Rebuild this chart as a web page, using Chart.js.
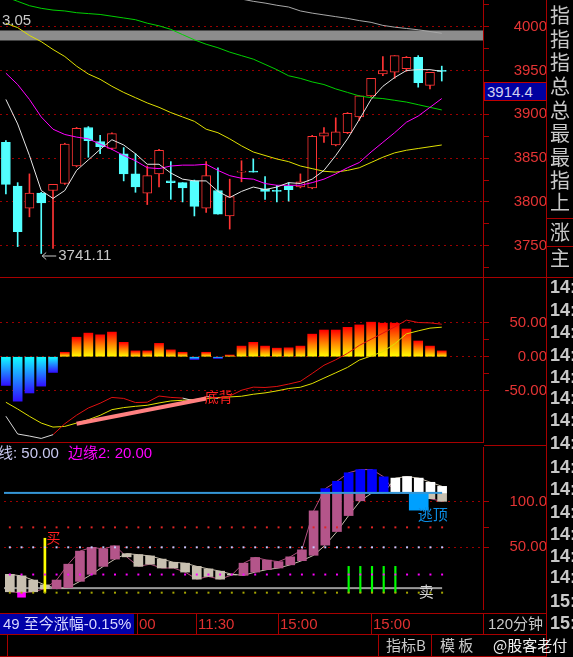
<!DOCTYPE html>
<html>
<head>
<meta charset="utf-8">
<title>120分钟 K线</title>
<script src="https://cdn.jsdelivr.net/npm/chart.js@4.4.1/dist/chart.umd.min.js"></script>
<style>
  html, body { margin: 0; padding: 0; background: #000; }
  body { position: relative; width: 573px; height: 657px; overflow: hidden; font-family: "Liberation Sans", Arial, "Noto Sans CJK SC", sans-serif; }
  canvas { position: absolute; left: 0; }
  .ln { position: absolute; background: #a80000; }
  .tx { position: absolute; white-space: nowrap; }
</style>
</head>
<body>
<canvas id="kChart" width="547" height="277" style="top:0"></canvas>
<canvas id="macdChart" width="547" height="164" style="top:278px"></canvas>
<canvas id="kdChart" width="547" height="170" style="top:443px"></canvas>
<script>
// 41 bar slots on the time axis, the first 38 are filled
const slots = Array.from({ length: 41 }, (_, i) => String(i + 1));

// main panel: 120 minute candles
const kOpen  = [3868,3818,3793,3810,3813,3821,3841,3885,3869,3861,3855,3832,3810,3832,3824,3822,3824,3793,3813,3784,3834,3835,3815,3813,3818,3817,3816,3875,3865,3879,3897,3921,3946,3948,3952,3965,3933,3950];
const kClose = [3820,3766,3810,3799,3820,3866,3884,3870,3863,3878,3832,3817,3830,3859,3822,3816,3795,3830,3786,3806,3835,3834,3812,3812,3814,3823,3875,3879,3880,3901,3921,3941,3950,3967,3965,3936,3948,3949];
const kHigh  = [3870,3822,3832,3811,3820,3867,3885,3886,3876,3879,3862,3855,3841,3860,3846,3822,3825,3846,3839,3826,3847,3849,3829,3819,3822,3832,3876,3885,3896,3902,3921,3941,3966,3967,3966,3967,3948,3955];
const kLow   = [3809,3749,3783,3741.11,3747,3820,3840,3851,3855,3860,3824,3811,3797,3817,3803,3800,3784,3788,3786,3769,3823,3834,3803,3800,3801,3816,3815,3868,3864,3878,3893,3920,3944,3941,3949,3931,3929,3938];
const maWhite  = [3917,3889,3853,3813,3804,3813,3836,3848,3860,3871,3865,3855,3843,3843,3833,3826,3824,3824,3812,3805,3812,3817,3814,3817,3822,3821,3826,3836,3853,3872,3894,3917,3932,3942,3950,3951,3951,3949];
const maPurple = [3947,3934,3917,3897,3883,3877,3874,3872,3866,3860,3853,3847,3839,3838,3841,3842,3842,3843,3836,3830,3827,3826,3821,3819,3819,3819,3822,3826,3832,3839,3845,3857,3868,3879,3891,3898,3908,3918];
const maYellow = [4004,3999,3990,3983,3974,3966,3955,3946,3940,3932,3925,3919,3913,3908,3902,3897,3892,3883,3879,3872,3864,3857,3853,3849,3846,3841,3838,3835,3834,3836,3839,3845,3851,3856,3859,3861,3863,3865];
const maGreen  = [4034,4029,4024,4021,4019,4018,4016,4015,4014,4012,4010,4008,4004,4001,3997,3991,3985,3980,3976,3971,3967,3963,3957,3951,3944,3941,3937,3934,3929,3925,3921,3919,3918,3916,3914,3911,3908,3905];
const maGray   = [null,null,null,null,null,null,null,null,null,null,null,null,null,null,null,null,null,null,null,null,4031.6,4029,4027,4024.5,4022.5,4018,4015.5,4013.5,4011.5,4009.5,4007,4005,4001.5,3999.5,3998,3996.5,3994.5,3992.5];
const priceTicks = [3725,3750,3775,3800,3825,3850,3875,3900,3925,3950,3975,4000,4025];
const priceBand = 3990;
const lowIdx = 3;

// MACD panel
const macdHist = [-42,-65,-53,-43,-23,6.5,28.5,34.5,32,36,21,8.5,8.5,19.5,10,6.5,-4,6.5,-2.5,2.5,15.5,21,15.5,12.5,13,15.5,33,39,39,43,46.5,50.5,49,49,40.5,23,15.5,8.5];
const dif = [-87,-113,-116,-119.5,-114,-98,-85.5,-75,-68,-59.5,-61,-67,-66.5,-57.5,-59.5,-60.5,-64.5,-58,-61,-57.5,-49,-44.5,-45,-43.5,-40,-36,-24.5,-12.5,-4.5,5,16.5,25.5,34.5,43.5,53.5,50,49.5,47.5];
const dea = [-66.6,-76.5,-87.2,-97,-102.9,-101.9,-97,-92.1,-85.7,-77.4,-74.4,-72.5,-71,-67.6,-64.7,-63.7,-62.6,-61.2,-59.7,-58.8,-57.8,-54.9,-52.9,-50,-46.5,-44.6,-39.2,-31.3,-23.5,-15.6,-4.9,1,7.4,18.7,33.4,37.8,41.8,43.2];
const macdTicks = [50,25,0,-25,-50];
const divergeStart = [6, -98];
const divergeEnd = [17, -61];

// lower indicator panel
const kdK = [1,0,1,4.4,13.9,31.4,45.8,50,48.2,51.7,39.5,29,31.4,27.2,27.2,22.7,14.9,17.8,14.9,19.5,32.5,38.8,35.9,34.2,39.5,47.2,90.2,114.7,122.8,132.2,135.7,135.7,127.7,110,110,110,103.6,100.7];
const kdD = [20.2,18.5,13.9,8.6,4.4,5.5,12.5,20.2,29,37,43,41.9,40.5,37,33.5,32.5,29,26.2,23.7,20.3,19.1,22.7,25.4,27.2,30.7,35.3,41.2,52.4,67.4,85,101.3,110,110,126.3,128,126.3,121.7,117.2];
const kdTicks = [100,72,50];
const dotLevels = [72,50,20,0];
const dotColors = ['#e02424','#c8c8ff','#ff00ff','#a8a800'];
const blueLevel = 110;
const grayLevel = 5;
const buyAt = 3, buyTop = 60;
const sellAt = [29,30,31,32,33], sellTop = 29;
const escapeAt = 35, escapeRange = [91,110];
const markAt = 1, markRange = [-5,0];

const frameRed = '#a80000';
const gridRed = '#9a0000';
const labelRed = '#e43434';
const fontFamily = '"Liberation Sans", Arial, sans-serif';
const cjkFamily = '"Noto Sans CJK SC", sans-serif';

function widest(labels) {
  const c = document.createElement('canvas').getContext('2d');
  c.font = '15px ' + fontFamily;
  return Math.max(...labels.map(t => c.measureText(t).width));
}

function yScale(min, max, ticks, fmt) {
  const w = widest(ticks.map(fmt).filter(t => t));
  return {
    position: 'right', min: min, max: max,
    afterBuildTicks: s => { s.ticks = ticks.map(v => ({ value: v })); },
    afterFit: s => { s.width = 64; s.paddingTop = 0; s.paddingBottom = 0; },
    border: { display: true, color: frameRed, width: 1, dash: [2, 4] },
    grid: {
      color: c => (c.tick && fmt(c.tick.value) !== '') ? gridRed : 'rgba(0,0,0,0)',
      tickColor: frameRed, tickLength: 6, lineWidth: 1
    },
    ticks: {
      autoSkip: false, callback: v => fmt(v), color: labelRed,
      font: { family: fontFamily, size: 15 }, crossAlign: 'far', padding: 539 - 483 - 6 - w
    }
  };
}

function chartOptions(y) {
  return {
    responsive: false, animation: false, events: [],
    layout: { padding: 0 },
    plugins: { legend: { display: false }, tooltip: { enabled: false } },
    scales: { x: { type: 'category', offset: true, display: false }, y: y }
  };
}

const line = (data, color, width, order, extra) => Object.assign({
  type: 'line', data: data, borderColor: color, borderWidth: width,
  pointRadius: 0, tension: 0, fill: false, order: order
}, extra || {});

// ---------- main chart ----------
const isUp = kOpen.map((o, i) => kClose[i] >= o);
const upColor = '#ff3434', downColor = '#52ffff';

const mainNotes = {
  id: 'mainNotes',
  beforeDatasetsDraw(chart) {
    const { ctx, chartArea: a, scales: { y } } = chart;
    const yc = y.getPixelForValue(priceBand);
    ctx.save();
    ctx.fillStyle = '#8c8c8c';
    ctx.fillRect(a.left, yc - 5, a.right - a.left, 10);
    ctx.restore();
  },
  afterDatasetsDraw(chart) {
    const { ctx, scales: { x, y } } = chart;
    const px = x.getPixelForValue(lowIdx), py = y.getPixelForValue(kLow[lowIdx]) + 2;
    ctx.save();
    // arrow pointing at the lowest low
    ctx.strokeStyle = '#c8c8c8';
    ctx.lineWidth = 1;
    ctx.beginPath();
    ctx.moveTo(px + 1, py + 0.5); ctx.lineTo(px + 15, py + 0.5);
    ctx.moveTo(px + 1, py + 0.5); ctx.lineTo(px + 5, py - 3);
    ctx.moveTo(px + 1, py + 0.5); ctx.lineTo(px + 5, py + 4);
    ctx.stroke();
    ctx.fillStyle = '#c8c8c8';
    ctx.font = '15px ' + fontFamily;
    ctx.textBaseline = 'middle';
    ctx.fillText(kLow[lowIdx].toFixed(2), px + 17, py);
    ctx.fillText('3.05', 2, 21);
    ctx.restore();
  }
};

new Chart(document.getElementById('kChart'), {
  type: 'bar',
  data: {
    labels: slots,
    datasets: [
      line(maWhite, '#e6e6e6', 1, 1),
      line(maPurple, '#ff00ff', 1, 2),
      line(maYellow, '#e0e000', 1, 3),
      line(maGreen, '#00d000', 1, 4),
      line(maGray, '#a8a8a8', 1, 5),
      {
        type: 'bar', data: kOpen.map((o, i) => [o, kClose[i]]), grouped: false, barThickness: 9,
        backgroundColor: isUp.map(u => u ? '#000000' : downColor),
        borderColor: isUp.map(u => u ? upColor : downColor),
        borderWidth: 1, borderSkipped: false, minBarLength: 1, order: 10
      },
      {
        type: 'bar', data: kLow.map((l, i) => [l, kHigh[i]]), grouped: false, barThickness: 1,
        backgroundColor: isUp.map(u => u ? upColor : downColor), borderWidth: 0, order: 11
      }
    ]
  },
  options: chartOptions(yScale(3714.3, 4030.5, priceTicks, v => v % 50 === 0 ? String(v) : '')),
  plugins: [mainNotes]
});

// ---------- MACD chart ----------
function histColor(c) {
  if (c.raw == null || typeof c.raw !== 'number') return 'rgba(0,0,0,0)';
  const y = c.chart.scales.y;
  const y0 = y.getPixelForValue(0), y1 = y.getPixelForValue(c.raw);
  if (!isFinite(y0) || !isFinite(y1) || y0 === y1) return c.raw >= 0 ? '#ff2000' : '#00ffff';
  const g = c.chart.ctx.createLinearGradient(0, y1, 0, y0);
  if (c.raw >= 0) {
    g.addColorStop(0, '#ff0000'); g.addColorStop(0.45, '#ff7a00'); g.addColorStop(1, '#ffff00');
  } else {
    g.addColorStop(0, '#3010ff'); g.addColorStop(1, '#10ffff');
  }
  return g;
}

const divergeData = slots.map((_, i) => i === divergeStart[0] ? divergeStart[1] : (i === divergeEnd[0] ? divergeEnd[1] : null));

const macdNotes = {
  id: 'macdNotes',
  afterDatasetsDraw(chart) {
    const { ctx, scales: { x, y } } = chart;
    ctx.save();
    ctx.fillStyle = '#ff2020';
    ctx.font = '14px ' + cjkFamily;
    ctx.textBaseline = 'middle';
    ctx.fillText('底背', x.getPixelForValue(divergeEnd[0]) - 1.5, y.getPixelForValue(divergeEnd[1]) - 2);
    ctx.restore();
  }
};

new Chart(document.getElementById('macdChart'), {
  type: 'bar',
  data: {
    labels: slots,
    datasets: [
      line(divergeData, '#ff8080', 4, 0, { spanGaps: true, borderCapStyle: 'butt' }),
      line(dif, '#e01010', 1, 1, {
        segment: { borderColor: s => dif[s.p1DataIndex] < dea[s.p1DataIndex] ? '#d8d8d8' : '#e01010' }
      }),
      line(dea, '#e0e000', 1, 2),
      { type: 'bar', data: macdHist, grouped: false, barThickness: 9, backgroundColor: histColor, borderWidth: 0, order: 10 }
    ]
  },
  options: chartOptions(yScale(-124.7, 115.1, macdTicks, v => v % 50 === 0 ? v.toFixed(2) : '')),
  plugins: [macdNotes]
});

// ---------- lower indicator chart ----------
const kdLo = kdK.map((k, i) => Math.min(k, kdD[i]));
const kdHi = kdK.map((k, i) => Math.max(k, kdD[i]));
const rising = kdK.map((k, i) => k >= kdD[i]);
const lowerBox = kdLo.map((lo, i) => lo < blueLevel ? [lo, Math.min(kdHi[i], blueLevel)] : null);
const upperBox = kdHi.map((hi, i) => hi > blueLevel ? [Math.max(kdLo[i], blueLevel), hi] : null);
const buyData = slots.map((_, i) => i === buyAt ? [0, buyTop] : null);
const sellData = slots.map((_, i) => sellAt.includes(i) ? [0, sellTop] : null);
const escapeData = slots.map((_, i) => i === escapeAt ? escapeRange : null);
const markData = slots.map((_, i) => i === markAt ? markRange : null);

const kdNotes = {
  id: 'kdNotes',
  beforeDatasetsDraw(chart) {
    const { ctx, chartArea: a, scales: { x, y } } = chart;
    ctx.save();
    ctx.fillStyle = '#9a9a9a';
    ctx.fillRect(a.left, y.getPixelForValue(grayLevel) - 1, x.getPixelForValue(kdK.length - 1) - a.left, 2);
    ctx.restore();
  },
  afterDatasetsDraw(chart) {
    const { ctx, chartArea: a, scales: { x, y } } = chart;
    ctx.save();
    ctx.fillStyle = '#3596d6';
    ctx.fillRect(a.left, y.getPixelForValue(blueLevel) - 1, x.getPixelForValue(kdK.length - 1) - a.left, 2);
    ctx.font = '14px ' + cjkFamily;
    ctx.textBaseline = 'top';
    ctx.fillStyle = '#ff2020';
    ctx.fillText('买', x.getPixelForValue(buyAt) + 1.5, y.getPixelForValue(buyTop) - 8);
    ctx.font = '15px ' + cjkFamily;
    ctx.fillStyle = '#0a8ee6';
    ctx.fillText('逃顶', x.getPixelForValue(escapeAt) - 1, y.getPixelForValue(escapeRange[0]) - 3);
    ctx.fillStyle = '#d4d4d4';
    ctx.textBaseline = 'middle';
    ctx.fillText('卖', x.getPixelForValue(escapeAt), y.getPixelForValue(0) - 1);
    ctx.restore();
  }
};

const dotSets = dotLevels.map((lv, j) => line(kdK.map(() => lv), dotColors[j], 0, 0, {
  showLine: false, pointStyle: 'rect', pointRadius: 1.4,
  pointBackgroundColor: dotColors[j], pointBorderWidth: 0
}));

const kdChart = new Chart(document.getElementById('kdChart'), {
  type: 'bar',
  data: {
    labels: slots,
    datasets: dotSets.concat([
      { type: 'bar', data: buyData, grouped: false, barThickness: 2, backgroundColor: '#ffff00', order: 1 },
      { type: 'bar', data: sellData, grouped: false, barThickness: 1.5, backgroundColor: '#00ff00', order: 1 },
      { type: 'bar', data: markData, grouped: false, barThickness: 8, backgroundColor: '#ff00ff', order: 1 },
      { type: 'bar', data: escapeData, grouped: false, barThickness: 19, backgroundColor: '#00a0ff', order: 2 },
      { type: 'bar', data: upperBox, grouped: false, barThickness: 9,
        backgroundColor: rising.map(r => r ? '#0000ff' : '#ffffff'), order: 3 },
      { type: 'bar', data: lowerBox, grouped: false, barThickness: 9,
        backgroundColor: rising.map(r => r ? '#b4558a' : '#c8c0b0'), order: 3 },
      line(kdK, '#b0507f', 1, 6),
      line(kdD, '#c8bfae', 1, 6)
    ])
  },
  options: chartOptions(yScale(-18, 160.6, kdTicks, v => v === 100 ? '100.0' : (v === 50 ? '50.00' : ''))),
  plugins: [kdNotes]
});

// ---------- frame, side panel and captions ----------
function ln(x, y, w, h) {
  const d = document.createElement('div');
  d.className = 'ln';
  d.style.cssText = `left:${x}px;top:${y}px;width:${w}px;height:${h}px`;
  document.body.appendChild(d);
}
function tx(text, x, cy, size, color, family, extra) {
  const d = document.createElement('div');
  d.className = 'tx';
  d.textContent = text;
  const h = Math.round(size * 1.3);
  d.style.cssText = `left:${x}px;top:${cy - h / 2}px;height:${h}px;line-height:${h}px;font-size:${size}px;color:${color};` +
    (family ? `font-family:${family};` : '') + (extra || '');
  document.body.appendChild(d);
  return d;
}

ln(0, 277, 573, 1);
ln(0, 442, 484, 1);
ln(484, 445, 63, 1);
ln(546, 0, 1, 657);
ln(547, 218, 26, 1);
ln(547, 246, 26, 1);
ln(0, 613, 547, 1);
ln(0, 634, 547, 1);
ln(0, 656, 547, 1);
ln(483, 613, 1, 21);
ln(7, 634, 1, 22);
ln(378, 634, 1, 22);
ln(431, 634, 1, 22);

// price tag on the axis
const tag = tx('3914.4', 484, 91.5, 15, '#d0d0f0', null,
  'width:59px;padding-left:2px;background:#0000a0;border:1px solid #c00000;height:17px;line-height:17px;');
tag.style.top = '82px';

// side column
const sideChars = ['指','指','指','总','总','最','最','指','上','涨','主'];
const sideRows = [15,39,62,86,110,133,157,180,202,232,258];
sideChars.forEach((c, i) => tx(c, 550, sideRows[i], 20, '#c8c8c8', cjkFamily));
const tickTimes = ['14:','14:','14:','14:','14:','14:','14:','14:','14:','14:','14:','14:','14:','14:','15:','15:'];
const tickRows = [287,310,332,355,377,398,420,443,467,489,512,534,556,577,601,623];
tickTimes.forEach((t, i) => tx(t, 550, tickRows[i], 18, '#c8c8c8', null, 'font-weight:bold;'));

// indicator caption
tx('线: 50.00', -2, 453, 15, '#c8c8f0', fontFamily + ',' + cjkFamily);
tx('边缘2: 20.00', 68, 453, 15, '#ff00ff', fontFamily + ',' + cjkFamily);

// time axis row
const timeMarks = [[11, '00'], [16, '11:30'], [23, '15:00'], [31, '15:00']];
timeMarks.forEach(([i, label]) => {
  const px = Math.round(kdChart.scales.x.getPixelForValue(i)) - 1;
  ln(px, 613, 1, 21);
  tx(label, px + 2, 624, 15, '#e03030');
});
tx('49 至今涨幅-0.15%', 0, 624, 15, '#d8d8ff', fontFamily + ',' + cjkFamily,
  'width:131px;padding-left:3px;background:#0000a8;overflow:hidden;');
tx('120分钟', 488, 624, 15, '#c8c8c8', fontFamily + ',' + cjkFamily);

// bottom row
tx('指标B', 386, 645, 15, '#c8c8c8', cjkFamily);
tx('模 板', 440, 645, 15, '#c8c8c8', cjkFamily);
tx('@股客老付', 493, 645, 15, '#f0f0f0', cjkFamily);
</script>
</body>
</html>
